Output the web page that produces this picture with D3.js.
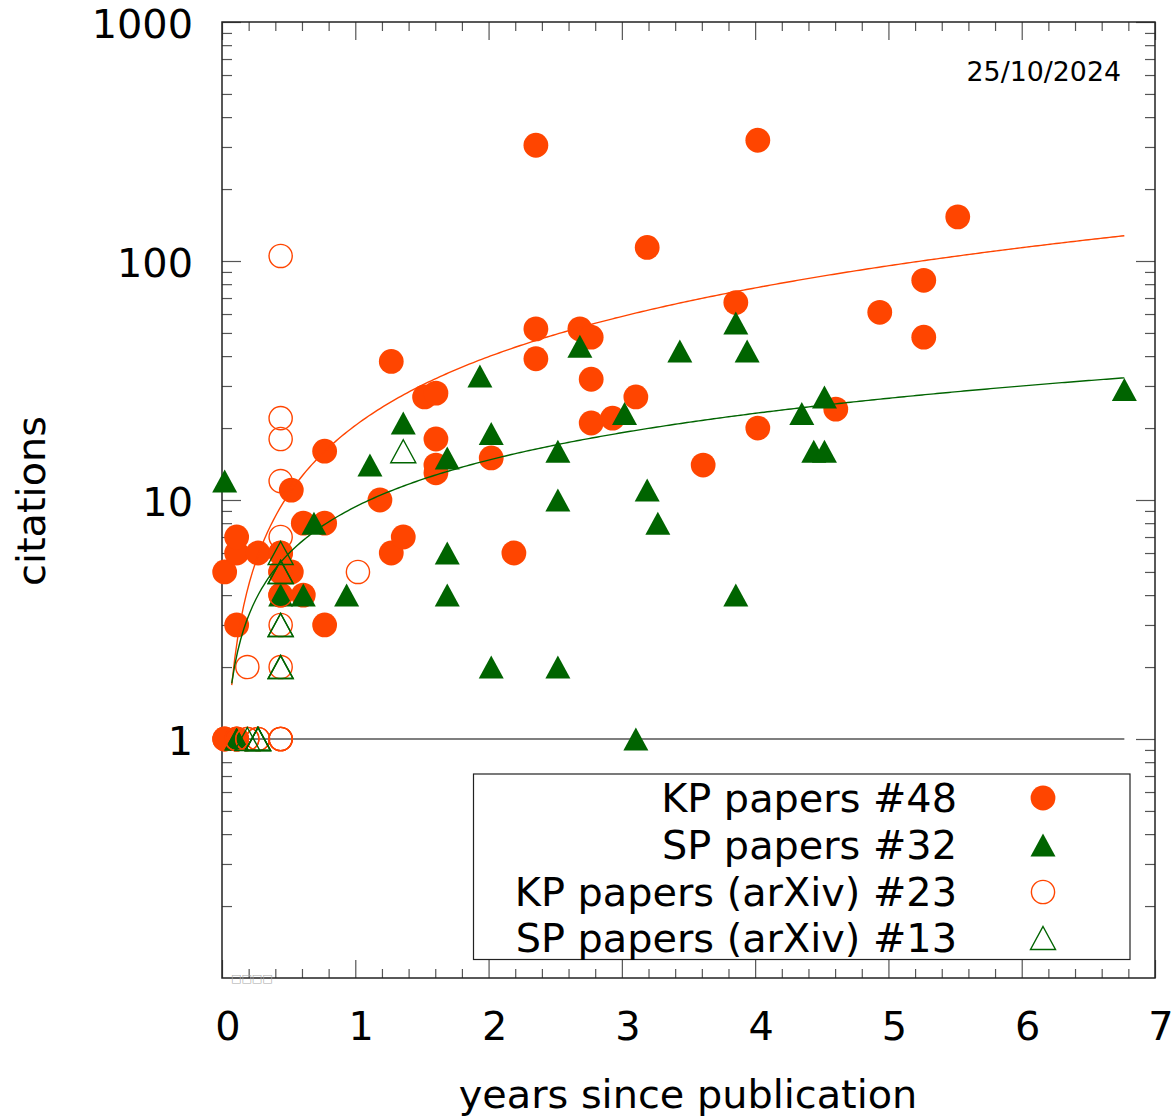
<!DOCTYPE html>
<html>
<head>
<meta charset="utf-8">
<script src="https://cdn.jsdelivr.net/npm/d3@7"></script>
<style>
body { margin: 0; background: #fff; }
text { font-family: "DejaVu Sans", sans-serif; }
</style>
</head>
<body>
<script>
// citations vs years since publication
const kpPapers = [
  [0.02, 5], [0.11, 6], [0.11, 7], [0.11, 3], [0.02, 1], [0.02, 1], [0.11, 1],
  [0.27, 6], [0.44, 6], [0.44, 5], [0.44, 4], [0.52, 11], [0.52, 5], [0.61, 8],
  [0.61, 4], [0.77, 16], [0.77, 8], [0.77, 3], [1.185, 10], [1.27, 38], [1.27, 6],
  [1.36, 7], [1.52, 27], [1.605, 28], [1.605, 18], [1.605, 14], [1.605, 13],
  [2.02, 15], [2.19, 6], [2.355, 305], [2.355, 52], [2.355, 39], [2.685, 52],
  [2.77, 48], [2.77, 32], [2.77, 21], [2.93, 22], [3.105, 27], [3.19, 114],
  [3.61, 14], [3.855, 67], [4.02, 320], [4.02, 20], [4.605, 24], [4.935, 61],
  [5.265, 83], [5.265, 48], [5.52, 153]
];
const spPapers = [
  [0.02, 12], [0.11, 1], [0.11, 1], [0.44, 4], [0.61, 4], [0.69, 8], [0.935, 4],
  [1.11, 14], [1.36, 21], [1.69, 15], [1.69, 6], [1.69, 4], [1.935, 33], [2.02, 19],
  [2.02, 2], [2.52, 16], [2.52, 10], [2.52, 2], [2.685, 44], [3.02, 23], [3.105, 1],
  [3.19, 11], [3.27, 8], [3.435, 42], [3.855, 55], [3.855, 4], [3.94, 42],
  [4.35, 23], [4.44, 16], [4.52, 16], [4.52, 27], [6.77, 29]
];
const kpArxiv = [
  [0.44, 105], [0.44, 22], [0.44, 18], [0.44, 12], [0.44, 7], [0.44, 6], [0.44, 5],
  [1.02, 5], [0.19, 2], [0.44, 2], [0.11, 1], [0.19, 1], [0.27, 1], [0.44, 1],
  [0.44, 1], [0.44, 1], [0.19, 1], [0.11, 1], [0.27, 1], [0.44, 3], [0.44, 4],
  [0.44, 1], [0.11, 1]
];
const spArxiv = [
  [1.36, 16], [0.44, 6], [0.44, 5], [0.44, 3], [0.44, 2], [0.27, 1], [0.19, 1],
  [0.27, 1], [0.44, 5], [0.44, 3], [0.27, 1], [0.44, 2], [0.27, 1]
];
// power law fits  c = a * t^b
const kpFit = { a: 20.5, b: 0.956 };
const spFit = { a: 9.36, b: 0.65 };
const fitRange = [0.073, 6.77];

const legendLabels = ["KP papers #48", "SP papers #32", "KP papers (arXiv) #23", "SP papers (arXiv) #13"];
const xTicks = [0, 1, 2, 3, 4, 5, 6, 7];
const yTicks = [1, 10, 100, 1000];
const dateLabel = "25/10/2024";

const width = 1173, height = 1117;
const orange = "#ff4500", green = "#006400";
const fs = 39.8;

const svg = d3.select("body").append("svg").attr("width", width).attr("height", height);

const x = d3.scaleLinear().domain([0, 7]).range([222, 1155]);
const y = d3.scaleLog().domain([0.1, 1000]).range([978, 22]);

// minor tick values
const xMinor = d3.range(0, 35).map(i => i / 5).filter(v => v % 1 !== 0);
const yMinor = [];
[0.1, 1, 10, 100].forEach(d => { for (let k = 2; k <= 9; k++) yMinor.push(d * k); });

const axes = svg.append("g").attr("stroke-width", 1.2);
function tickAxis(axis, tr) {
  const g = axes.append("g").attr("transform", tr).call(axis);
  g.select(".domain").remove();
  g.selectAll("line").attr("stroke", "#555");
  g.selectAll("text").remove();
}
tickAxis(d3.axisBottom(x).tickValues(xTicks).tickSize(-18), "translate(0,978)");
tickAxis(d3.axisBottom(x).tickValues(xMinor).tickSize(-9), "translate(0,978)");
tickAxis(d3.axisTop(x).tickValues(xTicks).tickSize(-18), "translate(0,22)");
tickAxis(d3.axisTop(x).tickValues(xMinor).tickSize(-9), "translate(0,22)");
tickAxis(d3.axisLeft(y).tickValues(yTicks).tickSize(-19), "translate(222,0)");
tickAxis(d3.axisLeft(y).tickValues(yMinor).tickSize(-10), "translate(222,0)");
tickAxis(d3.axisRight(y).tickValues(yTicks).tickSize(-19), "translate(1155,0)");
tickAxis(d3.axisRight(y).tickValues(yMinor).tickSize(-10), "translate(1155,0)");

svg.append("rect").attr("x", 222).attr("y", 22).attr("width", 933).attr("height", 956)
  .attr("fill", "none").attr("stroke", "#222").attr("stroke-width", 1.5);

// tick labels
svg.append("g").selectAll("text").data(xTicks).join("text")
  .attr("x", d => x(d) + 6).attr("y", 1040)
  .attr("text-anchor", "middle").attr("font-size", fs).text(d => d);
svg.append("g").selectAll("text").data(yTicks).join("text")
  .attr("x", 193).attr("y", d => y(d) + 1.5).attr("dy", "0.36em")
  .attr("text-anchor", "end").attr("font-size", fs).text(d => d);

svg.append("text").attr("x", 688).attr("y", 1108).attr("text-anchor", "middle")
  .attr("font-size", fs).text("years since publication");
svg.append("text").attr("transform", "translate(45,501) rotate(-90)").attr("text-anchor", "middle")
  .attr("font-size", fs).text("citations");
svg.append("text").attr("x", 1121).attr("y", 81).attr("text-anchor", "end")
  .attr("font-size", 26.8).text(dateLabel);
svg.append("text").attr("x", 231).attr("y", 982).attr("font-size", 11).attr("fill", "#aaa")
  .text("\u25a1\u25a1\u25a1\u25a1");

// reference line at 1 citation
svg.append("line").attr("x1", x(0)).attr("x2", x(fitRange[1]))
  .attr("y1", y(1)).attr("y2", y(1)).attr("stroke", "#000").attr("stroke-width", 1.2);

const tri = (cx, cy) => `M${cx},${cy - 11.5}L${cx + 12.5},${cy + 11.5}L${cx - 12.5},${cy + 11.5}Z`;

const plot = svg.append("g");
plot.selectAll(".kp").data(kpPapers).join("circle").attr("class", "kp")
  .attr("cx", d => x(d[0])).attr("cy", d => y(d[1])).attr("r", 12.4).attr("fill", orange);
plot.selectAll(".sp").data(spPapers).join("path").attr("class", "sp")
  .attr("d", d => tri(x(d[0]), y(d[1]))).attr("fill", green);
plot.selectAll(".kpa").data(kpArxiv).join("circle").attr("class", "kpa")
  .attr("cx", d => x(d[0])).attr("cy", d => y(d[1])).attr("r", 11.6)
  .attr("fill", "none").attr("stroke", orange).attr("stroke-width", 1.4);
plot.selectAll(".spa").data(spArxiv).join("path").attr("class", "spa")
  .attr("d", d => tri(x(d[0]), y(d[1]))).attr("fill", "none")
  .attr("stroke", green).attr("stroke-width", 1.4);

// fit curves
const ts = d3.range(0, 301).map(i => fitRange[0] + (fitRange[1] - fitRange[0]) * i / 300);
const line = d3.line().x(d => x(d[0])).y(d => y(d[1]));
[[kpFit, orange], [spFit, green]].forEach(([f, c]) => {
  plot.append("path").datum(ts.map(t => [t, f.a * Math.pow(t, f.b)]))
    .attr("d", line).attr("fill", "none").attr("stroke", c).attr("stroke-width", 1.4);
});

// legend
const lg = svg.append("g");
lg.append("rect").attr("x", 473.5).attr("y", 774).attr("width", 656.5).attr("height", 185.5)
  .attr("fill", "#fff").attr("stroke", "#222").attr("stroke-width", 1.2);
const rowY = [798, 845, 892, 938];
lg.selectAll("text").data(legendLabels).join("text")
  .attr("x", 957).attr("y", (d, i) => rowY[i]).attr("dy", "0.36em")
  .attr("text-anchor", "end").attr("font-size", fs).text(d => d);
lg.append("circle").attr("cx", 1043).attr("cy", rowY[0]).attr("r", 12.4).attr("fill", orange);
lg.append("path").attr("d", tri(1043, rowY[1])).attr("fill", green);
lg.append("circle").attr("cx", 1043).attr("cy", rowY[2]).attr("r", 11.6)
  .attr("fill", "none").attr("stroke", orange).attr("stroke-width", 1.4);
lg.append("path").attr("d", tri(1043, rowY[3])).attr("fill", "none")
  .attr("stroke", green).attr("stroke-width", 1.4);
</script>
</body>
</html>
